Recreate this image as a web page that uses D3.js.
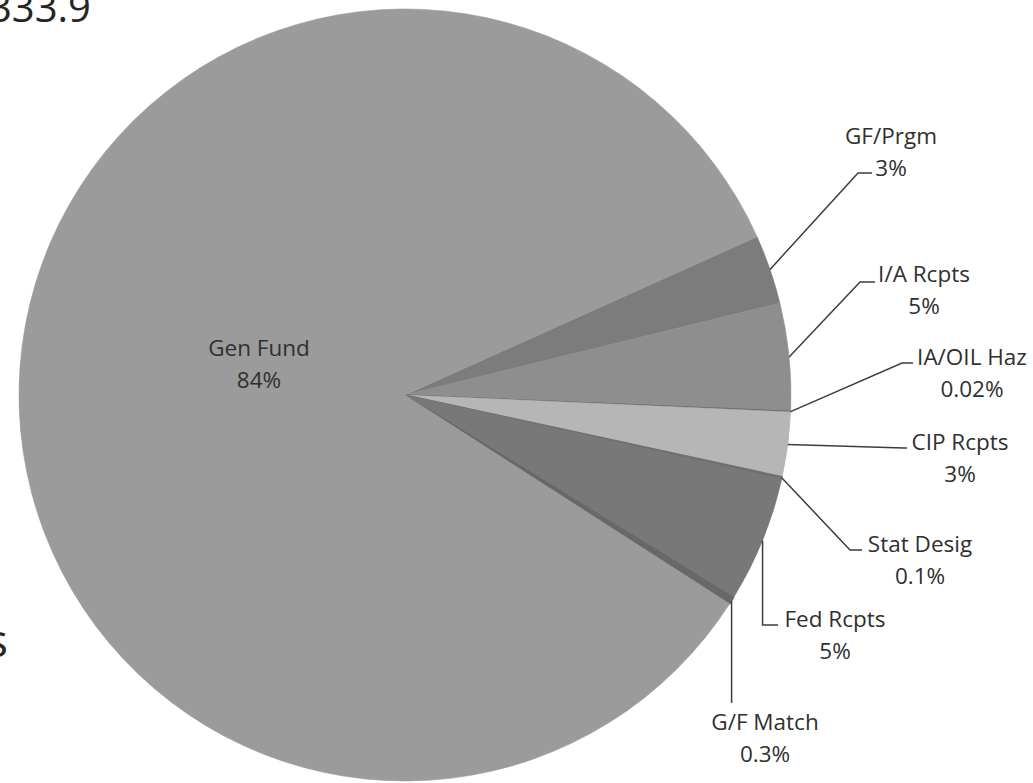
<!DOCTYPE html>
<html>
<head>
<meta charset="utf-8">
<script src="https://cdn.jsdelivr.net/npm/d3@7"></script>
<style>
  html, body { margin: 0; padding: 0; background: #ffffff; }
  svg { display: block; }
  text { font-family: "Open Sans", "DejaVu Sans", sans-serif; fill: #303030; }
</style>
</head>
<body>
<svg id="chart" width="1033" height="783"></svg>
<script>
// ---- data ----
const categories = ["GF/Prgm", "I/A Rcpts", "IA/OIL Haz", "CIP Rcpts", "Stat Desig", "Fed Rcpts", "G/F Match", "Gen Fund"];
const values = [2.9, 4.5, 0.02, 2.7, 0.1, 5.3, 0.3, 84.18];
const pctLabels = ["3%", "5%", "0.02%", "3%", "0.1%", "5%", "0.3%", "84%"];
const titleFragment = "333.9";
const sideFragment = "s";

// ---- styles / layout ----
const colors = ["#7c7c7c", "#8e8e8e", "#666666", "#b6b6b6", "#707070", "#787878", "#686868", "#9b9b9b"];
const W = 1033, H = 783;
const cx = 405, cy = 395, R = 386;
const startDeg = 65.8;
const lineGap = 31.5;
const fontSize = 22.5;

// label layout: text centre x, first baseline y, leader elbow and leader end
const labelLayout = [
  { tx: 891, ty: 144, elbow: [858, 173], end: [872, 173] },
  { tx: 924, ty: 282, elbow: [860, 282], end: [875, 282] },
  { tx: 972, ty: 365, elbow: [902, 363], end: [913, 363] },
  { tx: 960, ty: 450, elbow: [904, 448], end: [907, 448] },
  { tx: 920, ty: 552, elbow: [850, 550], end: [862, 550] },
  { tx: 835, ty: 627, elbow: null, end: [778, 625], vertical: 625 },
  { tx: 765, ty: 730, elbow: null, end: null, vertical: 703 },
  { tx: 259, ty: 356, inside: true }
];

const svg = d3.select("#chart");

// title fragments (cut at page edge, as in the source)
svg.append("text")
  .attr("x", 91).attr("y", 22)
  .attr("text-anchor", "end")
  .style("font-size", "40px")
  .style("fill", "#262626")
  .text(titleFragment);

svg.append("text")
  .attr("x", 8).attr("y", 657)
  .attr("text-anchor", "end")
  .style("font-size", "46px")
  .style("fill", "#262626")
  .text(sideFragment);

const rad = d => d * Math.PI / 180;
const pie = d3.pie().sort(null).value(d => d)
  .startAngle(rad(startDeg)).endAngle(rad(startDeg) + 2 * Math.PI);
const arcs = pie(values);

const arc = d3.arc().innerRadius(0).outerRadius(R);
const edgeArc = d3.arc().innerRadius(R).outerRadius(R);

const g = svg.append("g").attr("transform", `translate(${cx},${cy})`);

g.selectAll("path.slice")
  .data(arcs)
  .join("path")
  .attr("class", "slice")
  .attr("d", arc)
  .attr("fill", (d, i) => colors[i])
  .attr("stroke", (d, i) => colors[i])
  .attr("stroke-width", (d, i) => values[i] < 0.5 ? 1.4 : 0.6)
  .attr("stroke-linejoin", "round");

// leader lines
const leaders = svg.append("g")
  .attr("fill", "none")
  .attr("stroke", "#3d3d3d")
  .attr("stroke-width", 1.5);

arcs.forEach((a, i) => {
  const L = labelLayout[i];
  if (L.inside) return;
  const c = edgeArc.centroid(a);
  const s = [cx + c[0], cy + c[1]];
  let pts;
  if (L.vertical !== undefined) {
    pts = [s, [s[0], L.vertical]];
    if (L.end) pts.push(L.end);
  } else {
    pts = [s, L.elbow, L.end];
  }
  leaders.append("path").attr("d", d3.line()(pts));
});

// labels
const labels = svg.append("g");
arcs.forEach((a, i) => {
  const L = labelLayout[i];
  const t = labels.append("text")
    .attr("text-anchor", "middle")
    .style("font-size", fontSize + "px");
  t.append("tspan").attr("x", L.tx).attr("y", L.ty).text(categories[i]);
  t.append("tspan").attr("x", L.tx).attr("y", L.ty + lineGap).text(pctLabels[i]);
});
</script>
</body>
</html>
